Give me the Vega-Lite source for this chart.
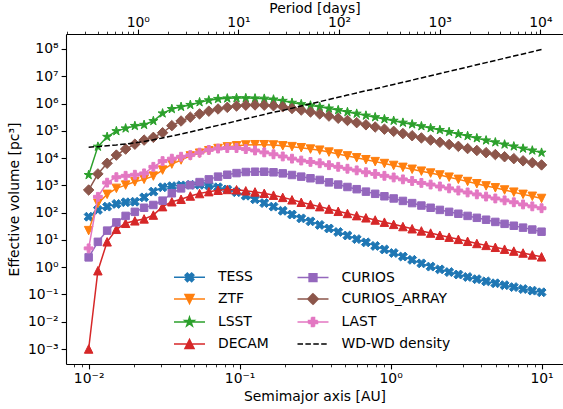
{
"$schema":"https://vega.github.io/schema/vega-lite/v6.json",
"width":497,"height":330,
"autosize":{"type":"none"},
"padding":{"left":66,"top":34,"right":0,"bottom":45},
"background":"white",
"config":{"view":{"stroke":null},"font":"DejaVu Sans",
 "axis":{"domainColor":"black","domainWidth":1.1,"tickColor":"black","labelColor":"black","titleColor":"black","labelFont":"DejaVu Sans","titleFont":"DejaVu Sans","labelFontSize":13.9,"titleFontSize":13.9,"titleFontWeight":"normal","grid":false,"labelOverlap":false,"labelFlush":false,"labelBound":false}},
"datasets":{"main":[
{"a":0.01,"TESS":70.8,"ZTF":21.9,"LSST":2399,"DECAM":0.001,"CURIOS":2.29,"CURIOS_ARRAY":676,"LAST":4.9,"WD-WD density":25120},
{"a":0.011514,"TESS":126,"ZTF":219,"LSST":26300,"DECAM":0.741,"CURIOS":8.51,"CURIOS_ARRAY":2630,"LAST":380,"WD-WD density":26300},
{"a":0.013257,"TESS":166,"ZTF":468,"LSST":60260,"DECAM":8.51,"CURIOS":21.9,"CURIOS_ARRAY":6457,"LAST":1259,"WD-WD density":28180},
{"a":0.015264,"TESS":209,"ZTF":776,"LSST":97720,"DECAM":24.5,"CURIOS":43.7,"CURIOS_ARRAY":12880,"LAST":1995,"WD-WD density":30200},
{"a":0.017575,"TESS":240,"ZTF":1023,"LSST":123000,"DECAM":40.7,"CURIOS":75.9,"CURIOS_ARRAY":21380,"LAST":2239,"WD-WD density":33110},
{"a":0.020236,"TESS":251,"ZTF":1349,"LSST":151400,"DECAM":50.1,"CURIOS":107,"CURIOS_ARRAY":32360,"LAST":2455,"WD-WD density":36310},
{"a":0.0233,"TESS":363,"ZTF":1660,"LSST":166000,"DECAM":58.9,"CURIOS":151,"CURIOS_ARRAY":45710,"LAST":2754,"WD-WD density":40740},
{"a":0.026827,"TESS":589,"ZTF":2188,"LSST":229100,"DECAM":81.3,"CURIOS":191,"CURIOS_ARRAY":57540,"LAST":4786,"WD-WD density":46770},
{"a":0.030888,"TESS":851,"ZTF":3631,"LSST":436500,"DECAM":166,"CURIOS":275,"CURIOS_ARRAY":85110,"LAST":7762,"WD-WD density":54950},
{"a":0.035565,"TESS":933,"ZTF":6026,"LSST":631000,"DECAM":251,"CURIOS":513,"CURIOS_ARRAY":154900,"LAST":9550,"WD-WD density":64570},
{"a":0.04095,"TESS":1000,"ZTF":8511,"LSST":758600,"DECAM":309,"CURIOS":776,"CURIOS_ARRAY":229100,"LAST":11220,"WD-WD density":75860},
{"a":0.047149,"TESS":1047,"ZTF":12020,"LSST":891300,"DECAM":407,"CURIOS":1023,"CURIOS_ARRAY":316200,"LAST":12880,"WD-WD density":91200},
{"a":0.054287,"TESS":1047,"ZTF":15140,"LSST":1122000,"DECAM":501,"CURIOS":1318,"CURIOS_ARRAY":416900,"LAST":15850,"WD-WD density":109600},
{"a":0.062506,"TESS":1000,"ZTF":18620,"LSST":1318000,"DECAM":589,"CURIOS":1660,"CURIOS_ARRAY":524800,"LAST":19950,"WD-WD density":131800},
{"a":0.07197,"TESS":851,"ZTF":22390,"LSST":1479000,"DECAM":661,"CURIOS":2089,"CURIOS_ARRAY":631000,"LAST":22390,"WD-WD density":158500},
{"a":0.082864,"TESS":708,"ZTF":25700,"LSST":1549000,"DECAM":708,"CURIOS":2455,"CURIOS_ARRAY":724400,"LAST":23440,"WD-WD density":190500},
{"a":0.09541,"TESS":562,"ZTF":28180,"LSST":1585000,"DECAM":692,"CURIOS":2818,"CURIOS_ARRAY":812800,"LAST":23440,"WD-WD density":229100},
{"a":0.10985,"TESS":417,"ZTF":30200,"LSST":1585000,"DECAM":631,"CURIOS":3090,"CURIOS_ARRAY":871000,"LAST":21380,"WD-WD density":275400},
{"a":0.12649,"TESS":309,"ZTF":30900,"LSST":1549000,"DECAM":575,"CURIOS":3162,"CURIOS_ARRAY":891300,"LAST":19050,"WD-WD density":331100},
{"a":0.14563,"TESS":224,"ZTF":30900,"LSST":1514000,"DECAM":513,"CURIOS":3162,"CURIOS_ARRAY":871000,"LAST":16220,"WD-WD density":398100},
{"a":0.16768,"TESS":166,"ZTF":30200,"LSST":1413000,"DECAM":437,"CURIOS":3020,"CURIOS_ARRAY":831800,"LAST":13800,"WD-WD density":478600},
{"a":0.19307,"TESS":117,"ZTF":28180,"LSST":1259000,"DECAM":363,"CURIOS":2754,"CURIOS_ARRAY":758600,"LAST":11480,"WD-WD density":562300},
{"a":0.2223,"TESS":85.1,"ZTF":26300,"LSST":1072000,"DECAM":295,"CURIOS":2399,"CURIOS_ARRAY":660700,"LAST":9550,"WD-WD density":676100},
{"a":0.25595,"TESS":61.7,"ZTF":23990,"LSST":955000,"DECAM":240,"CURIOS":2089,"CURIOS_ARRAY":575400,"LAST":8128,"WD-WD density":812800},
{"a":0.29471,"TESS":47.9,"ZTF":21380,"LSST":851100,"DECAM":200,"CURIOS":1820,"CURIOS_ARRAY":489800,"LAST":7244,"WD-WD density":977200},
{"a":0.33932,"TESS":35.5,"ZTF":19500,"LSST":758600,"DECAM":166,"CURIOS":1585,"CURIOS_ARRAY":416900,"LAST":6457,"WD-WD density":1175000},
{"a":0.39069,"TESS":26.3,"ZTF":16600,"LSST":660700,"DECAM":135,"CURIOS":1288,"CURIOS_ARRAY":346700,"LAST":5495,"WD-WD density":1413000},
{"a":0.44984,"TESS":19.5,"ZTF":14130,"LSST":575400,"DECAM":112,"CURIOS":1072,"CURIOS_ARRAY":288400,"LAST":4786,"WD-WD density":1698000},
{"a":0.51795,"TESS":14.5,"ZTF":12020,"LSST":489800,"DECAM":93.3,"CURIOS":871,"CURIOS_ARRAY":239900,"LAST":4074,"WD-WD density":2042000},
{"a":0.59636,"TESS":10.7,"ZTF":10230,"LSST":426600,"DECAM":77.6,"CURIOS":724,"CURIOS_ARRAY":199500,"LAST":3548,"WD-WD density":2455000},
{"a":0.68665,"TESS":8.13,"ZTF":8710,"LSST":363100,"DECAM":64.6,"CURIOS":589,"CURIOS_ARRAY":166000,"LAST":3020,"WD-WD density":2951000},
{"a":0.7906,"TESS":6.03,"ZTF":7413,"LSST":316200,"DECAM":53.7,"CURIOS":490,"CURIOS_ARRAY":138000,"LAST":2630,"WD-WD density":3467000},
{"a":0.91029,"TESS":4.47,"ZTF":6310,"LSST":269200,"DECAM":44.7,"CURIOS":398,"CURIOS_ARRAY":114800,"LAST":2239,"WD-WD density":4169000},
{"a":1.04811,"TESS":3.31,"ZTF":5370,"LSST":234400,"DECAM":37.2,"CURIOS":331,"CURIOS_ARRAY":95500,"LAST":1950,"WD-WD density":5012000},
{"a":1.20679,"TESS":2.45,"ZTF":4571,"LSST":199500,"DECAM":30.9,"CURIOS":269,"CURIOS_ARRAY":79430,"LAST":1660,"WD-WD density":6026000},
{"a":1.3895,"TESS":1.86,"ZTF":3890,"LSST":173800,"DECAM":25.7,"CURIOS":224,"CURIOS_ARRAY":66070,"LAST":1445,"WD-WD density":7244000},
{"a":1.59986,"TESS":1.38,"ZTF":3311,"LSST":147900,"DECAM":21.4,"CURIOS":182,"CURIOS_ARRAY":54950,"LAST":1230,"WD-WD density":8710000},
{"a":1.84207,"TESS":1.05,"ZTF":2818,"LSST":125900,"DECAM":17.8,"CURIOS":151,"CURIOS_ARRAY":45710,"LAST":1072,"WD-WD density":10470000},
{"a":2.12095,"TESS":0.832,"ZTF":2399,"LSST":107200,"DECAM":14.8,"CURIOS":126,"CURIOS_ARRAY":38020,"LAST":912,"WD-WD density":12590000},
{"a":2.44205,"TESS":0.661,"ZTF":1995,"LSST":91200,"DECAM":12.6,"CURIOS":107,"CURIOS_ARRAY":31620,"LAST":776,"WD-WD density":15140000},
{"a":2.81177,"TESS":0.537,"ZTF":1660,"LSST":75860,"DECAM":10.5,"CURIOS":91.2,"CURIOS_ARRAY":26920,"LAST":646,"WD-WD density":18200000},
{"a":3.23746,"TESS":0.437,"ZTF":1380,"LSST":64570,"DECAM":8.91,"CURIOS":75.9,"CURIOS_ARRAY":22390,"LAST":550,"WD-WD density":21880000},
{"a":3.72759,"TESS":0.363,"ZTF":1148,"LSST":53700,"DECAM":7.41,"CURIOS":64.6,"CURIOS_ARRAY":19050,"LAST":468,"WD-WD density":26300000},
{"a":4.29193,"TESS":0.302,"ZTF":955,"LSST":44670,"DECAM":6.31,"CURIOS":55.0,"CURIOS_ARRAY":15850,"LAST":389,"WD-WD density":31620000},
{"a":4.94171,"TESS":0.257,"ZTF":813,"LSST":38020,"DECAM":5.37,"CURIOS":45.7,"CURIOS_ARRAY":13490,"LAST":331,"WD-WD density":38020000},
{"a":5.68987,"TESS":0.219,"ZTF":676,"LSST":31620,"DECAM":4.57,"CURIOS":38.9,"CURIOS_ARRAY":11220,"LAST":282,"WD-WD density":45710000},
{"a":6.55129,"TESS":0.186,"ZTF":562,"LSST":26920,"DECAM":3.89,"CURIOS":33.1,"CURIOS_ARRAY":9550,"LAST":240,"WD-WD density":54950000},
{"a":7.54312,"TESS":0.158,"ZTF":468,"LSST":22390,"DECAM":3.31,"CURIOS":28.2,"CURIOS_ARRAY":7943,"LAST":200,"WD-WD density":66070000},
{"a":8.68511,"TESS":0.138,"ZTF":398,"LSST":19050,"DECAM":2.82,"CURIOS":24.0,"CURIOS_ARRAY":6761,"LAST":170,"WD-WD density":79430000},
{"a":10,"TESS":0.12,"ZTF":331,"LSST":15850,"DECAM":2.4,"CURIOS":20.0,"CURIOS_ARRAY":5623,"LAST":145,"WD-WD density":95500000}
]},
"layer":[
{"data":{"name":"main"},
 "transform":[{"fold":["TESS","ZTF","LSST","DECAM","CURIOS","CURIOS_ARRAY","LAST","WD-WD density"],"as":["series","v"]}],
 "encoding":{
  "x":{"field":"a","type":"quantitative","scale":{"type":"log","domain":[0.007079,13.87],"nice":false},
   "axis":{"orient":"bottom","title":"Semimajor axis [AU]","values":[0.008,0.009,0.01,0.02,0.03,0.04,0.05,0.06,0.07,0.08,0.09,0.1,0.2,0.3,0.4,0.5,0.6,0.7,0.8,0.9,1,2,3,4,5,6,7,8,9,10],
    "labelExpr":"abs(log(datum.value)/LN10 - round(log(datum.value)/LN10)) < 0.001 ? '10' + (datum.value < 1 ? '⁻' : '') + ['⁰','¹','²','³','⁴','⁵','⁶','⁷','⁸','⁹'][abs(round(log(datum.value)/LN10))] : ''",
    "tickSize":{"condition":{"test":"abs(log(datum.value)/LN10 - round(log(datum.value)/LN10)) < 0.001","value":4.9},"value":2.8},
    "tickWidth":{"condition":{"test":"abs(log(datum.value)/LN10 - round(log(datum.value)/LN10)) < 0.001","value":1.1},"value":0.8},
    "labelPadding":3,"titlePadding":4}},
  "y":{"field":"v","type":"quantitative","scale":{"type":"log","domain":[0.000282,354800000],"nice":false},
   "axis":{"title":"Effective volume [pc³]","values":[0.001,0.01,0.1,1,10,100,1000,10000,100000,1000000,10000000,100000000],
    "labelExpr":"abs(log(datum.value)/LN10 - round(log(datum.value)/LN10)) < 0.001 ? '10' + (datum.value < 1 ? '⁻' : '') + ['⁰','¹','²','³','⁴','⁵','⁶','⁷','⁸','⁹'][abs(round(log(datum.value)/LN10))] : ''",
    "tickSize":4.9,"tickWidth":1.1,"labelPadding":3,"titlePadding":6}}
 },
 "layer":[
  {"transform":[{"filter":"datum.series == 'TESS'"}],"mark":{"type":"line","color":"#1f77b4","strokeWidth":1.5,"point":{"shape":"M0.471,-0.943L0.943,-0.471L0.471,0L0.943,0.471L0.471,0.943L0,0.471L-0.471,0.943L-0.943,0.471L-0.471,0L-0.943,-0.471L-0.471,-0.943L0,-0.471Z","size":90,"filled":true,"color":"#1f77b4","stroke":"#1f77b4","strokeWidth":1,"opacity":1}},"encoding":{}},
  {"transform":[{"filter":"datum.series == 'ZTF'"}],"mark":{"type":"line","color":"#ff7f0e","strokeWidth":1.5,"point":{"shape":"M0,1L1,-1L-1,-1Z","size":72,"filled":true,"color":"#ff7f0e","stroke":"#ff7f0e","strokeWidth":1,"opacity":1}},"encoding":{}},
  {"transform":[{"filter":"datum.series == 'LSST'"}],"mark":{"type":"line","color":"#2ca02c","strokeWidth":1.5,"point":{"shape":"M0,-1L0.2245,-0.309L0.951,-0.309L0.363,0.118L0.588,0.809L0,0.382L-0.588,0.809L-0.363,0.118L-0.951,-0.309L-0.2245,-0.309Z","size":90,"filled":true,"color":"#2ca02c","stroke":"#2ca02c","strokeWidth":1,"opacity":1}},"encoding":{}},
  {"transform":[{"filter":"datum.series == 'DECAM'"}],"mark":{"type":"line","color":"#d62728","strokeWidth":1.5,"point":{"shape":"M0,-1L1,1L-1,1Z","size":72,"filled":true,"color":"#d62728","stroke":"#d62728","strokeWidth":1,"opacity":1}},"encoding":{}},
  {"transform":[{"filter":"datum.series == 'CURIOS'"}],"mark":{"type":"line","color":"#9467bd","strokeWidth":1.5,"point":{"shape":"M-1,-1H1V1H-1Z","size":56,"filled":true,"color":"#9467bd","stroke":"#9467bd","strokeWidth":1,"opacity":1}},"encoding":{}},
  {"transform":[{"filter":"datum.series == 'CURIOS_ARRAY'"}],"mark":{"type":"line","color":"#8c564b","strokeWidth":1.5,"point":{"shape":"M0,-1L1,0L0,1L-1,0Z","size":110,"filled":true,"color":"#8c564b","stroke":"#8c564b","strokeWidth":1,"opacity":1}},"encoding":{}},
  {"transform":[{"filter":"datum.series == 'LAST'"}],"mark":{"type":"line","color":"#e377c2","strokeWidth":1.5,"point":{"shape":"M-0.333,-1H0.333V-0.333H1V0.333H0.333V1H-0.333V0.333H-1V-0.333H-0.333Z","size":78,"filled":true,"color":"#e377c2","stroke":"#e377c2","strokeWidth":1,"opacity":1}},"encoding":{}},
  {"transform":[{"filter":"datum.series == 'WD-WD density'"}],"mark":{"type":"line","color":"black","strokeWidth":1.5,"strokeDash":[5.5,2.4]},"encoding":{}},
  {"transform":[{"filter":"false"}],"mark":{"type":"point","filled":true,"opacity":1,"strokeWidth":1.5,"size":400},
   "encoding":{
    "fill":{"field":"series","type":"nominal","scale":{"domain":["TESS","ZTF","LSST","DECAM","CURIOS","CURIOS_ARRAY","LAST","WD-WD density"],"range":["#1f77b4","#ff7f0e","#2ca02c","#d62728","#9467bd","#8c564b","#e377c2","black"]},
     "legend":{"title":null,"orient":"none","legendX":112.5,"legendY":232,"columns":2,"columnPadding":24.5,"rowPadding":3,"symbolSize":400,"symbolStrokeWidth":1.5,"labelFontSize":13.9,"labelFont":"DejaVu Sans","labelColor":"black","labelOffset":17.5,"padding":0}},
    "stroke":{"field":"series","type":"nominal","scale":{"domain":["TESS","ZTF","LSST","DECAM","CURIOS","CURIOS_ARRAY","LAST","WD-WD density"],"range":["#1f77b4","#ff7f0e","#2ca02c","#d62728","#9467bd","#8c564b","#e377c2","black"]},
     "legend":{"title":null,"orient":"none","legendX":112.5,"legendY":232,"columns":2,"columnPadding":24.5,"rowPadding":3,"symbolSize":400,"symbolStrokeWidth":1.5,"labelFontSize":13.9,"labelFont":"DejaVu Sans","labelColor":"black","labelOffset":17.5,"padding":0}},
    "shape":{"field":"series","type":"nominal","scale":{"domain":["TESS","ZTF","LSST","DECAM","CURIOS","CURIOS_ARRAY","LAST","WD-WD density"],"range":[
      "M-1.55,0H1.55M0.217,-0.434L0.434,-0.217L0.217,0L0.434,0.217L0.217,0.434L0,0.217L-0.217,0.434L-0.434,0.217L-0.217,0L-0.434,-0.217L-0.217,-0.434L0,-0.217Z",
      "M-1.55,0H1.55M0,0.45L0.45,-0.45H-0.45Z",
      "M-1.55,0H1.55M0,-0.48L0.109,-0.149L0.457,-0.149L0.175,0.057L0.282,0.389L0,0.183L-0.282,0.389L-0.175,0.057L-0.457,-0.149L-0.109,-0.149Z",
      "M-1.55,0H1.55M0,-0.45L0.45,0.45H-0.45Z",
      "M-1.55,0H1.55M-0.39,-0.39H0.39V0.39H-0.39Z",
      "M-1.55,0H1.55M0,-0.53L0.53,0L0,0.53L-0.53,0Z",
      "M-1.55,0H1.55M-0.155,-0.45H0.155V-0.155H0.45V0.155H0.155V0.45H-0.155V0.155H-0.45V-0.155H-0.155Z",
      "M-1.55,0H1.55"]},
     "legend":{"title":null,"orient":"none","legendX":112.5,"legendY":232,"columns":2,"columnPadding":24.5,"rowPadding":3,"symbolSize":400,"symbolStrokeWidth":1.5,"labelFontSize":13.9,"labelFont":"DejaVu Sans","labelColor":"black","labelOffset":17.5,"padding":0}},
    "strokeDash":{"field":"series","type":"nominal","scale":{"domain":["TESS","ZTF","LSST","DECAM","CURIOS","CURIOS_ARRAY","LAST","WD-WD density"],"range":[[1,0],[1,0],[1,0],[1,0],[1,0],[1,0],[1,0],[5.5,2.4]]},
     "legend":{"title":null,"orient":"none","legendX":112.5,"legendY":232,"columns":2,"columnPadding":24.5,"rowPadding":3,"symbolSize":400,"symbolStrokeWidth":1.5,"labelFontSize":13.9,"labelFont":"DejaVu Sans","labelColor":"black","labelOffset":17.5,"padding":0}}
   }}
 ]
},
{"data":{"values":[{"P":1}]},"mark":{"type":"point","opacity":0},
 "encoding":{"x":{"field":"P","type":"quantitative","scale":{"type":"log","domain":[0.1936,16790],"nice":false},
  "axis":{"orient":"top","title":"Period [days]","values":[0.2,0.3,0.4,0.5,0.6,0.7,0.8,0.9,1,2,3,4,5,6,7,8,9,10,20,30,40,50,60,70,80,90,100,200,300,400,500,600,700,800,900,1000,2000,3000,4000,5000,6000,7000,8000,9000,10000],
   "labelExpr":"abs(log(datum.value)/LN10 - round(log(datum.value)/LN10)) < 0.001 ? '10' + (datum.value < 1 ? '⁻' : '') + ['⁰','¹','²','³','⁴','⁵','⁶','⁷','⁸','⁹'][abs(round(log(datum.value)/LN10))] : ''",
   "tickSize":{"condition":{"test":"abs(log(datum.value)/LN10 - round(log(datum.value)/LN10)) < 0.001","value":4.9},"value":2.8},
   "tickWidth":{"condition":{"test":"abs(log(datum.value)/LN10 - round(log(datum.value)/LN10)) < 0.001","value":1.1},"value":0.8},
   "labelPadding":0,"titlePadding":0}}}
}
],
"resolve":{"scale":{"x":"independent"}}
}
